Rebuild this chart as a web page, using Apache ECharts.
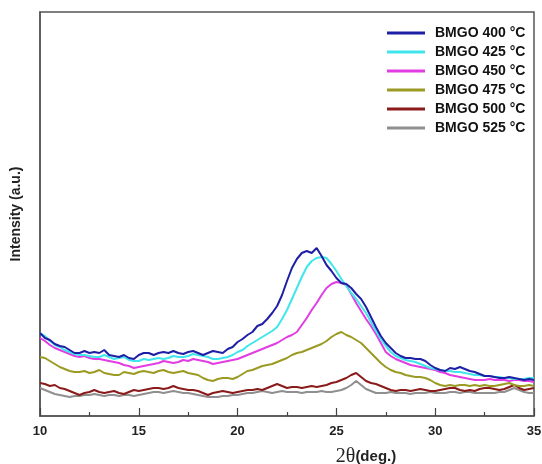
<!DOCTYPE html>
<html>
<head>
<meta charset="utf-8">
<script src="https://cdn.jsdelivr.net/npm/echarts@6/dist/echarts.min.js"></script>
<style>
html,body{margin:0;padding:0;background:#fff;}
#chart{width:542px;height:464px;}
</style>
</head>
<body>
<div id="chart"></div>
<script>
// 2θ grid (deg.), from 10 to 35 in steps of 0.25
const theta = [];
for (let i = 0; i <= 100; i++) theta.push(10 + i * 0.25);

const seriesNames = ['BMGO 400 °C', 'BMGO 425 °C', 'BMGO 450 °C', 'BMGO 475 °C', 'BMGO 500 °C', 'BMGO 525 °C'];

const bmgo400 = [
  83,78,76,72,70,69,66,63,63,65,63,64,63,66,61,60,59,61,58,57,61,
  63,63,61,63,64,63,65,63,62,64,65,63,61,63,65,64,63,67,69,74,
  77,81,84,90,92,97,103,110,121,135,148,157,163,165,163,168,160,151,145,138,
  133,132,128,122,117,109,99,89,80,73,68,63,60,58,58,57,57,55,51,48,
  46,45,48,47,49,47,45,44,42,40,40,39,38,38,39,38,37,36,37,36];
const bmgo425 = [
  83,80,75,71,69,66,64,62,61,61,60,59,59,61,59,57,58,59,56,55,55,
  57,56,57,58,57,58,60,59,59,60,62,61,60,59,57,57,58,59,61,64,
  66,70,73,76,79,82,85,89,97,106,117,128,139,149,155,158,159,158,152,145,
  137,130,123,117,110,103,94,85,77,70,64,60,58,56,55,54,52,50,48,47,
  46,45,45,44,44,43,42,41,41,40,40,39,39,38,38,37,37,37,38,38];
const bmgo450 = [
  78,75,71,68,66,64,62,60,59,60,58,57,57,56,55,54,53,51,50,48,49,
  50,51,52,53,55,54,53,54,56,55,57,56,55,54,52,53,54,55,56,57,
  59,61,63,65,67,69,71,73,76,79,81,84,91,98,106,113,121,128,132,134,
  133,131,122,113,105,97,90,82,73,64,60,57,55,53,51,50,49,48,47,46,
  44,43,41,40,39,38,37,36,36,36,37,36,36,36,35,36,36,35,35,34];
const bmgo475 = [
  59,58,55,52,49,47,45,44,44,45,43,44,46,43,42,41,41,44,43,42,44,
  45,44,43,45,46,44,43,44,45,43,42,41,38,36,35,37,38,38,37,39,
  42,45,46,48,50,51,52,54,56,58,61,63,64,66,68,70,72,75,79,82,
  84,81,79,76,73,68,63,58,53,49,46,44,43,41,40,39,39,38,36,33,
  31,30,31,30,31,31,30,31,30,31,30,30,31,32,33,31,30,30,31,30];
const bmgo500 = [
  33,32,30,31,28,27,25,23,21,23,24,26,24,23,24,25,23,22,24,26,25,
  26,27,28,28,27,28,30,28,27,26,26,25,23,21,23,24,25,24,23,24,
  25,26,26,27,26,28,30,32,30,28,29,29,28,29,30,29,30,31,33,34,
  36,38,41,43,39,35,33,32,30,28,26,25,26,26,25,26,27,26,25,25,
  26,27,28,28,26,25,26,25,27,28,28,27,26,27,29,31,28,26,27,28];
const bmgo525 = [
  28,26,24,22,21,20,19,20,20,21,21,22,21,20,21,21,20,21,21,20,21,
  22,23,24,24,23,24,25,24,23,23,22,21,20,19,19,19,20,20,21,21,
  22,23,23,24,25,24,23,24,25,24,24,24,23,24,24,24,25,24,24,25,
  26,28,31,35,31,27,25,23,23,23,24,23,23,23,22,23,23,23,24,23,
  23,23,24,24,23,24,24,23,23,23,23,23,24,24,26,28,26,24,23,23];

const xTicks = [10, 15, 20, 25, 30, 35];
const colors = ['#1f1fa6', '#40e6ec', '#e23de2', '#9b9b24', '#8a1b1b', '#8f8f8f'];

const allData = [bmgo400, bmgo425, bmgo450, bmgo475, bmgo500, bmgo525];

const chart = echarts.init(document.getElementById('chart'), null, {renderer: 'canvas'});

const series = allData.map((vals, k) => ({
  name: seriesNames[k],
  type: 'line',
  data: theta.map((t, i) => [t, vals[i]]),
  symbol: 'none',
  smooth: false,
  lineStyle: {width: 2, color: colors[k]},
  itemStyle: {color: colors[k]},
  z: 10 - k
}));

chart.setOption({
  animation: false,
  backgroundColor: '#fff',
  grid: {left: 40, right: 8, top: 12, bottom: 48, containLabel: false, outerBoundsMode: 'none',
         show: true, borderColor: '#555', borderWidth: 1.5, backgroundColor: 'transparent'},
  legend: {
    orient: 'vertical',
    left: 387,
    top: 26,
    padding: 0,
    itemWidth: 38,
    itemHeight: 3,
    itemGap: 5,
    icon: 'rect',
    data: seriesNames,
    textStyle: {fontFamily: 'Liberation Sans, Arial, sans-serif', fontWeight: 'bold', fontSize: 14, color: '#111', lineHeight: 14, padding: [0, 0, 0, 5]}
  },
  xAxis: {
    type: 'value',
    min: xTicks[0],
    max: xTicks[xTicks.length - 1],
    interval: 5,
    name: '{t|2θ}{d|(deg.)}',
    nameLocation: 'middle',
    nameGap: 31,
    nameTextStyle: {
      padding: [0, 0, 0, 158],
      rich: {
        t: {fontFamily: 'Liberation Serif, Times New Roman, serif', fontSize: 20, color: '#222'},
        d: {fontFamily: 'Liberation Sans, Arial, sans-serif', fontWeight: 'bold', fontSize: 15, color: '#222'}
      }
    },
    axisLine: {show: true, lineStyle: {color: '#555', width: 1.5}},
    axisTick: {show: true, inside: true, length: 8, lineStyle: {color: '#444', width: 1.2}},
    minorTick: {show: true, splitNumber: 2, length: 4, lineStyle: {color: '#444', width: 1.2}},
    axisLabel: {fontFamily: 'Liberation Sans, Arial, sans-serif', fontWeight: 'bold', fontSize: 13, color: '#222', margin: 9},
    splitLine: {show: false}
  },
  yAxis: {
    type: 'value',
    min: 0,
    max: 404,
    name: 'Intensity (a.u.)',
    nameLocation: 'middle',
    nameGap: 17,
    nameTextStyle: {fontFamily: 'Liberation Sans, Arial, sans-serif', fontWeight: 'bold', fontSize: 14, color: '#222'},
    axisLine: {show: true, lineStyle: {color: '#555', width: 1.5}},
    axisTick: {show: false},
    axisLabel: {show: false},
    splitLine: {show: false}
  },
  series: series
});
</script>
</body>
</html>
